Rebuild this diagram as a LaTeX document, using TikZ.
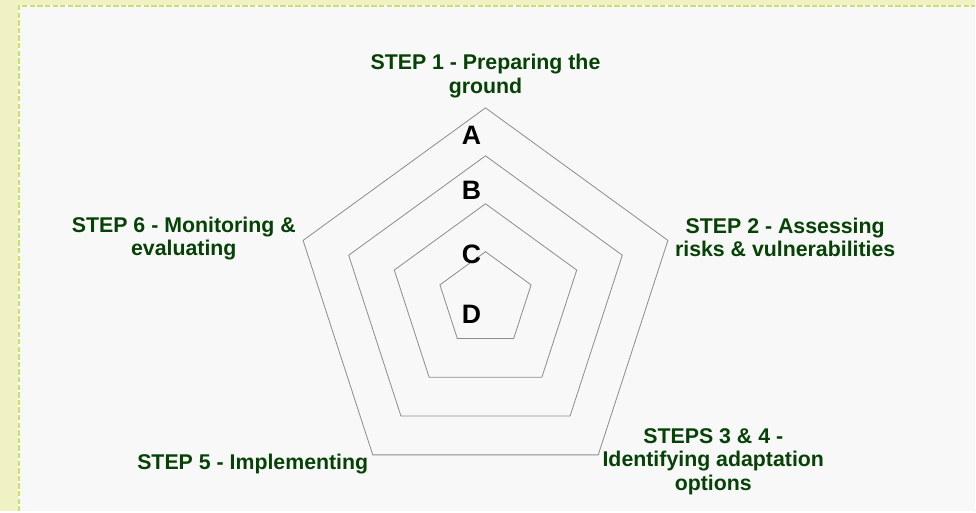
\documentclass[tikz,border=0pt]{standalone}
\usepackage{fontspec}
\setmainfont{Liberation Sans}
\usetikzlibrary{positioning}
\definecolor{stepgreen}{RGB}{6,66,6}
\definecolor{paper}{RGB}{248,248,248}
\definecolor{margin}{RGB}{240,242,196}
\definecolor{edge}{RGB}{200,225,110}

\begin{document}
\begin{tikzpicture}[x=0.75pt,y=0.75pt,
 steplabel/.style={align=center,font=\bfseries\fontsize{16}{17.5}\selectfont,text=stepgreen},
 ring/.style={draw=gray!90,line width=0.6pt},
 ringletter/.style={font=\bfseries\fontsize{20}{24}\selectfont}]
% background and margin
\fill[margin] (-486,-212) rectangle (490,300);
\fill[paper] (-467,-212) rectangle (490,294);
\draw[white,line width=1.5pt] (-467,-212) -- (-467,294) -- (490,294);
\draw[edge,line width=1.5pt,dash pattern=on 4pt off 1.7pt] (-467,-212) -- (-467,294) -- (490,294);
\useasboundingbox (-486,-212) rectangle (490,300);
% concentric pentagons
\foreach \r in {48,96,144,192}
  \draw[ring] (90:\r) -- (162:\r) -- (234:\r) -- (306:\r) -- (18:\r) -- cycle;
% ring letters
\node[ringletter] (ringA) at (-14,165) {A};
\node[ringletter] (ringB) at (-14,109) {B};
\node[ringletter] (ringC) at (-14,45) {C};
\node[ringletter] (ringD) at (-14,-15) {D};
% step labels
\node[steplabel] (step1) at (0,224) {STEP 1 - Preparing the\\ground};
\node[steplabel] (step2) at (300,62.5) {STEP 2 - Assessing\\risks \& vulnerabilities};
\node[steplabel] (step34) at (228,-162) {STEPS 3 \& 4 -\\Identifying adaptation\\options};
\node[steplabel] (step5) at (-233,-165) {STEP 5 - Implementing};
\node[steplabel] (step6) at (-302,61) {STEP 6 - Monitoring \&\\evaluating};
\end{tikzpicture}
\end{document}
